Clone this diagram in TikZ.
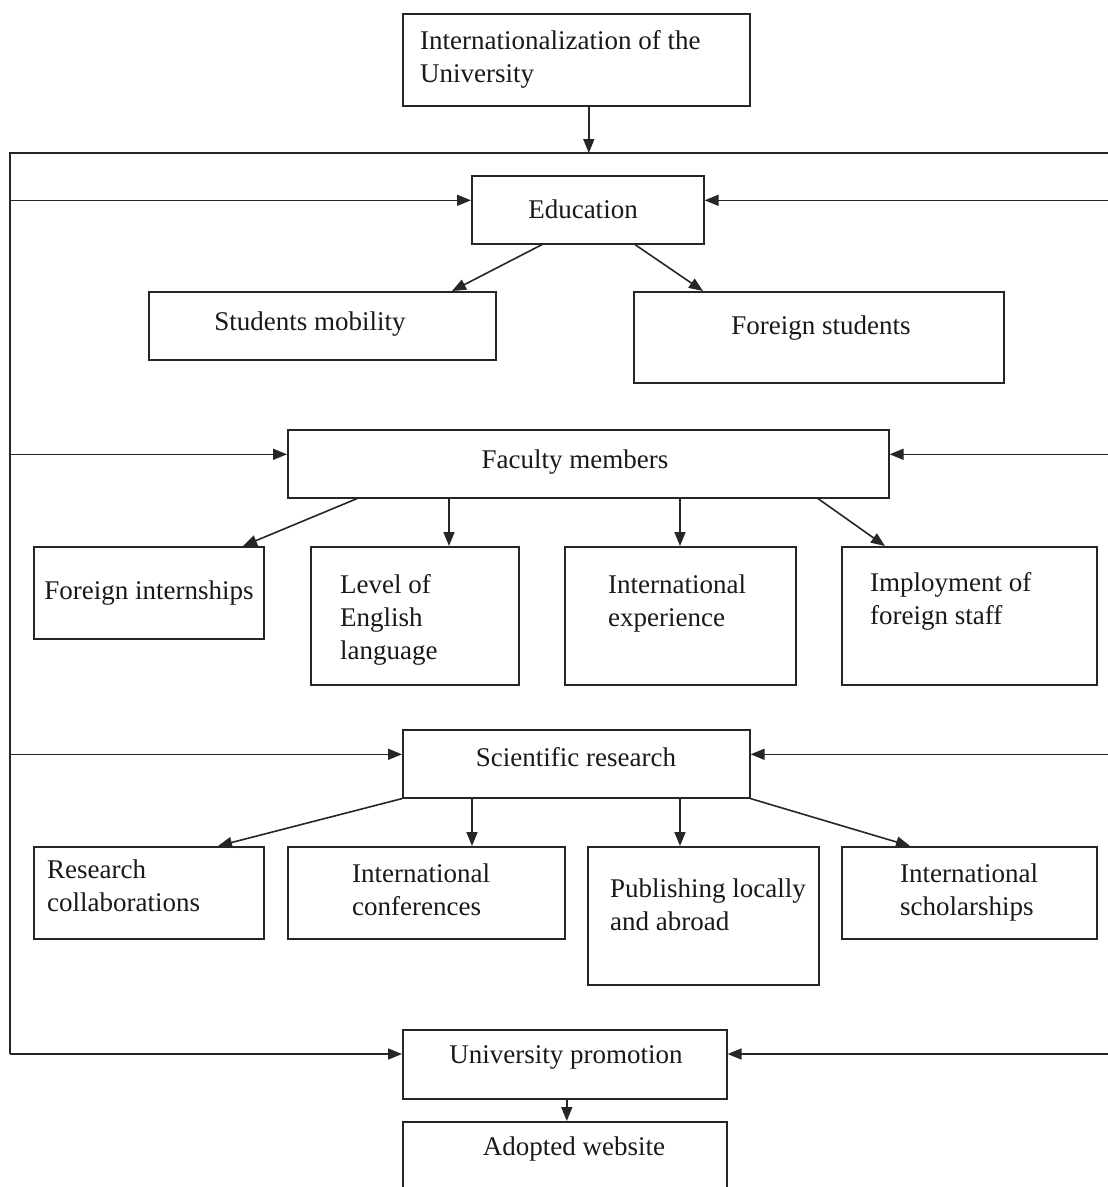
\documentclass[tikz,border=0pt]{standalone}
\usepackage{fontspec}
\setmainfont{Liberation Serif}
\usetikzlibrary{arrows.meta,calc}
\begin{document}
\begin{tikzpicture}[x=1pt,y=-1pt,
  box/.style={draw=black!85,line width=1.6pt,inner sep=0pt,anchor=north west},
  txt/.style={inner sep=0pt,font=\fontsize{27}{33}\selectfont,text=black!90},
  ltxt/.style={txt,align=left,anchor=west},
  conn/.style={draw=black!85,line width=1.6pt},
  arr/.style={conn,-{Triangle[length=14pt,width=11pt]}}]
\useasboundingbox[fill=white] (0,0) rectangle (1108,1187);
\clip (0,0) rectangle (1108,1187);
% boxes
\node[box,minimum width=347pt,minimum height=92pt] (top) at (402,13) {};
\node[box,minimum width=232pt,minimum height=68pt] (edu) at (471,175) {};
\node[box,minimum width=347pt,minimum height=68pt] (sm) at (148,291) {};
\node[box,minimum width=370pt,minimum height=91pt] (fs) at (633,291) {};
\node[box,minimum width=601pt,minimum height=68pt] (fm) at (287,429) {};
\node[box,minimum width=230pt,minimum height=92pt] (fi) at (33,546) {};
\node[box,minimum width=208pt,minimum height=138pt] (le) at (310,546) {};
\node[box,minimum width=231pt,minimum height=138pt] (ie) at (564,546) {};
\node[box,minimum width=255pt,minimum height=138pt] (im) at (841,546) {};
\node[box,minimum width=347pt,minimum height=68pt] (sr) at (402,729) {};
\node[box,minimum width=230pt,minimum height=92pt] (rc) at (33,846) {};
\node[box,minimum width=277pt,minimum height=92pt] (ic) at (287,846) {};
\node[box,minimum width=231pt,minimum height=138pt] (pl) at (587,846) {};
\node[box,minimum width=255pt,minimum height=92pt] (is) at (841,846) {};
\node[box,minimum width=324pt,minimum height=69pt] (up) at (402,1029) {};
\node[box,minimum width=324pt,minimum height=100pt] (aw) at (402,1121) {};
% texts
\node[ltxt] (t-top) at (420,59) {Internationalization of the\\University};
\node[txt] (t-edu) at (583,209) {Education};
\node[txt] (t-sm) at (310,324) {Students mobility};
\node[txt] (t-fs) at (821,328) {Foreign students};
\node[txt] (t-fm) at (575,462) {Faculty members};
\node[txt] (t-fi) at (149,593) {Foreign internships};
\node[ltxt] (t-le) at (340,620) {Level of\\English\\language};
\node[ltxt] (t-ie) at (608,603) {International\\experience};
\node[ltxt] (t-im) at (870,601) {Imployment of\\foreign staff};
\node[txt] (t-sr) at (576,757) {Scientific research};
\node[ltxt] (t-rc) at (47,886) {Research\\collaborations};
\node[ltxt] (t-ic) at (352,890) {International\\conferences};
\node[ltxt] (t-pl) at (610,905) {Publishing locally\\and abroad};
\node[ltxt] (t-is) at (900,892) {International\\scholarships};
\node[txt] (t-up) at (566,1057) {University promotion};
\node[txt] (t-aw) at (574,1149) {Adopted website};
% frame
\coordinate (tr) at (1108,153);
\coordinate (tl) at (10,153);
\coordinate (bl) at (10,1054);
\draw[conn] (tr) -- (tl) -- (bl);
\coordinate (topout) at ([xshift=12.5pt]top.south);
\draw[arr] (topout) -- (topout |- tl);
% side arrows
\foreach \n in {edu,fm,sr} {
  \coordinate (\n-w) at ([yshift=9.5pt]\n.west);
  \coordinate (\n-e) at ([yshift=9.5pt]\n.east);
  \draw[arr] (tl |- \n-w) -- (\n-w);
  \draw[arr] (tr |- \n-e) -- (\n-e);
}
\draw[arr] (bl) -- (bl -| up.west);
\draw[arr] (bl -| tr) -- (bl -| up.east);
% education
\draw[arr] ([xshift=71pt]edu.south west) -- ([xshift=304pt]sm.north west);
\draw[arr] ([xshift=164pt]edu.south west) -- ([xshift=70pt]fs.north west);
% faculty
\draw[arr] ([xshift=70pt]fm.south west) -- ([xshift=210pt]fi.north west);
\draw[arr] ([xshift=162pt]fm.south west) -- ([xshift=139pt]le.north west);
\draw[arr] ([xshift=393pt]fm.south west) -- ([xshift=116pt]ie.north west);
\draw[arr] ([xshift=531pt]fm.south west) -- ([xshift=44pt]im.north west);
% scientific research
\draw[arr] (sr.south west) -- ([xshift=185pt]rc.north west);
\draw[arr] ([xshift=70pt]sr.south west) -- ([xshift=185pt]ic.north west);
\draw[arr] ([xshift=278pt]sr.south west) -- ([xshift=93pt]pl.north west);
\draw[arr] (sr.south east) -- ([xshift=69pt]is.north west);
% promotion
\draw[arr] ([xshift=2pt]up.south) -- ([xshift=2pt]aw.north);
\end{tikzpicture}
\end{document}
